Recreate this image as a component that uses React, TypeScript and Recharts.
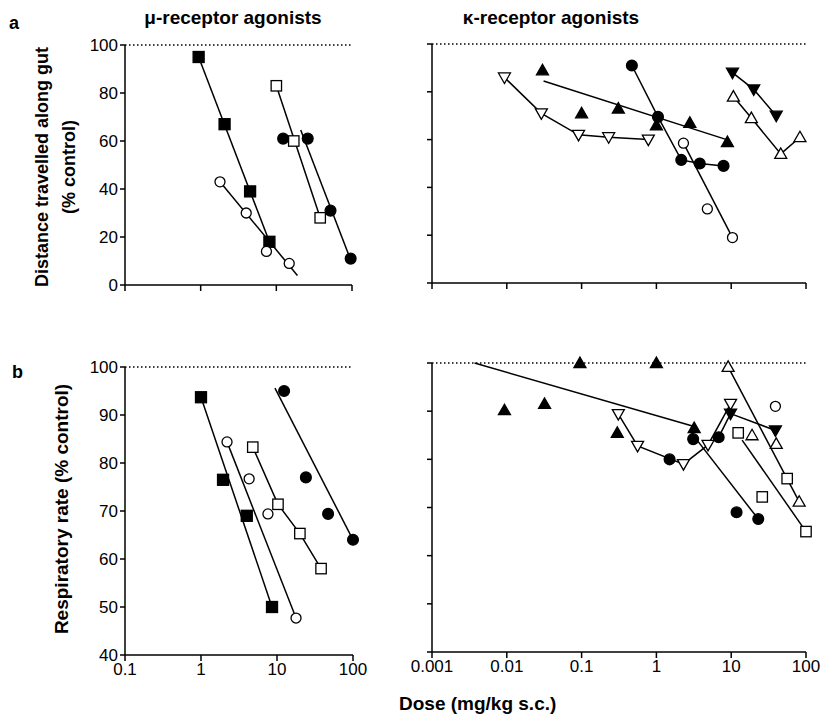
import React from "react";
import { ScatterChart, Scatter, XAxis, YAxis, ReferenceLine } from "recharts";

type Pt = [number, number];

// ---- a: distance travelled along gut, mu agonists ----
const muGutFilledSquare: Pt[] = [[0.94, 95], [2.07, 67], [4.5, 39], [8.1, 18]];
const muGutFilledSquareFit: Pt[] = [[0.94, 95], [8.1, 18]];
const muGutOpenCircle: Pt[] = [[1.8, 43], [4.0, 30], [7.4, 14], [14.8, 9]];
const muGutOpenCircleFit: Pt[] = [[1.8, 43], [19, 4]];
const muGutOpenSquare: Pt[] = [[10, 83], [17, 60], [38, 28]];
const muGutOpenSquareFit: Pt[] = [[10, 83], [38, 28]];
const muGutFilledCircle: Pt[] = [[12.3, 61], [26, 61], [52, 31], [96, 11]];
const muGutFilledCircleFit: Pt[] = [[21, 64.6], [100, 9]];

// ---- a: distance travelled along gut, kappa agonists ----
const kGutOpenDown: Pt[] = [[0.0093, 86], [0.029, 71], [0.091, 62], [0.23, 61], [0.78, 60]];
const kGutFilledUp: Pt[] = [[0.03, 89], [0.1, 71], [0.31, 73], [1.0, 66], [2.8, 67], [8.9, 59]];
const kGutFilledUpFit: Pt[] = [[0.031, 84.5], [8.7, 60]];
const kGutFilledCircle: Pt[] = [[0.47, 91], [1.05, 69.5], [2.15, 51.5], [3.8, 50], [7.9, 49]];
const kGutOpenCircle: Pt[] = [[2.3, 58.5], [4.8, 31], [10.4, 19]];
const kGutOpenCircleFit: Pt[] = [[2.3, 58.5], [10.4, 19]];
const kGutFilledDown: Pt[] = [[10.4, 88], [20, 81], [40, 70]];
const kGutOpenUp: Pt[] = [[10.7, 78], [18.6, 69], [46, 54], [83, 61]];

// ---- b: respiratory rate, mu agonists ----
const muRespFilledSquare: Pt[] = [[1.0, 93.7], [1.95, 76.5], [4.0, 69], [8.6, 50]];
const muRespFilledSquareFit: Pt[] = [[1.0, 93.7], [8.6, 50]];
const muRespOpenCircle: Pt[] = [[2.2, 84.4], [4.3, 76.7], [7.6, 69.4], [17.8, 47.7]];
const muRespOpenCircleFit: Pt[] = [[2.2, 84.4], [17.8, 47.7]];
const muRespOpenSquare: Pt[] = [[4.8, 83.3], [10.3, 71.4], [20, 65.3], [38, 58]];
const muRespFilledCircle: Pt[] = [[12.4, 95], [24, 77], [47, 69.4], [100, 64]];
const muRespFilledCircleFit: Pt[] = [[9.4, 95.6], [100, 64]];

// ---- b: respiratory rate, kappa agonists ----
const kRespFilledUp: Pt[] = [[0.0093, 90.2], [0.032, 91.5], [0.095, 100], [1.0, 100], [0.3, 85.5], [3.2, 86.5]];
const kRespFilledUpFit: Pt[] = [[0.0037, 100], [3.2, 86.8]];
const kRespOpenDown: Pt[] = [[0.31, 89.4], [0.56, 82.8], [2.3, 79], [4.9, 83], [9.8, 91.5]];
const kRespFilledCircle: Pt[] = [[1.5, 80], [3.1, 84.2], [6.8, 84.6], [11.8, 69], [23, 67.6]];
const kRespFilledCircleFit: Pt[] = [[2.9, 85.6], [23, 67.6]];
const kRespFilledDown: Pt[] = [[9.8, 89.5], [39, 86]];
const kRespFilledDownFit: Pt[] = [[6.8, 84.6], [9.8, 89.5], [39, 86]];
const kRespOpenSquare: Pt[] = [[12.4, 85.5], [26, 72.2], [56, 76], [100, 65]];
const kRespOpenSquareFit: Pt[] = [[14, 84], [100, 65]];
const kRespOpenUp: Pt[] = [[9.1, 99.2], [19, 85], [40, 83.2], [81, 71.2]];
const kRespOpenUpFit: Pt[] = [[9.1, 99.2], [81, 71.2]];
const kRespOpenCircle: Pt[] = [[39, 91]];

const muDoseTicks = [0.1, 1, 10, 100];
const kDoseTicks = [0.001, 0.01, 0.1, 1, 10, 100];
const gutTicks = [0, 20, 40, 60, 80, 100];
const respTicks = [40, 50, 60, 70, 80, 90, 100];

const FONT = "'Liberation Sans', Arial, sans-serif";

type Kind = "sq" | "sqo" | "ci" | "cio" | "tu" | "tuo" | "td" | "tdo";

const Marker = ({ cx, cy, kind }: { cx?: number; cy?: number; kind: Kind }) => {
  if (cx == null || cy == null) return <g />;
  const open = kind.endsWith("o");
  const fill = open ? "#fff" : "#000";
  const sw = 1.3;
  if (kind.startsWith("sq")) {
    const s = open ? 5.2 : 5.5;
    return <rect x={cx - s} y={cy - s} width={2 * s} height={2 * s} fill={fill} stroke="#000" strokeWidth={sw} />;
  }
  if (kind.startsWith("ci")) {
    return <circle cx={cx} cy={cy} r={open ? 5 : 5.4} fill={fill} stroke="#000" strokeWidth={sw} />;
  }
  const s = 6;
  const pts =
    kind.startsWith("tu")
      ? `${cx},${cy - s} ${cx - s},${cy + s * 0.75} ${cx + s},${cy + s * 0.75}`
      : `${cx},${cy + s} ${cx - s},${cy - s * 0.75} ${cx + s},${cy - s * 0.75}`;
  return <polygon points={pts} fill={fill} stroke="#000" strokeWidth={sw} strokeLinejoin="miter" />;
};

const toData = (arr: Pt[]) => arr.map(([x, y]) => ({ x, y }));

interface PanelProps {
  left: number;
  top: number;
  width: number;
  height: number;
  margin: { top: number; right: number; bottom: number; left: number };
  yAxisWidth: number;
  xDomain: [number, number];
  xTicks: number[];
  yDomain: [number, number];
  yTicks: number[];
  xLabels: boolean;
  yLabels: boolean;
  lines: Pt[][];
  points: { data: Pt[]; kind: Kind }[];
}

const tickStyle = { fill: "#000", fontSize: 17, fontFamily: FONT };
const NoLabel = () => <g />;

const Panel = (p: PanelProps) => (
  <div style={{ position: "absolute", left: p.left, top: p.top }}>
    <ScatterChart width={p.width} height={p.height} margin={p.margin}>
      <XAxis
        type="number"
        dataKey="x"
        scale="log"
        domain={p.xDomain}
        ticks={p.xTicks}
        interval={0}
        tickFormatter={(v: number) => String(v)}
        tick={p.xLabels ? tickStyle : NoLabel}
        tickSize={6}
        height={30}
        stroke="#000"
        strokeWidth={1.5}
      />
      <YAxis
        type="number"
        dataKey="y"
        domain={p.yDomain}
        ticks={p.yTicks}
        interval={0}
        tick={p.yLabels ? tickStyle : NoLabel}
        tickSize={5}
        width={p.yAxisWidth}
        stroke="#000"
        strokeWidth={1.5}
      />
      <ReferenceLine y={p.yDomain[1]} stroke="#000" strokeWidth={1.5} strokeDasharray="1.5 2.5" />
      {p.lines.map((l, i) => (
        <Scatter
          key={"l" + i}
          data={toData(l)}
          line={{ stroke: "#000", strokeWidth: 1.5 }}
          lineType="joint"
          shape={() => <g />}
          isAnimationActive={false}
        />
      ))}
      {p.points.map((s, i) => (
        <Scatter
          key={"p" + i}
          data={toData(s.data)}
          shape={(props: any) => <Marker cx={props.cx} cy={props.cy} kind={s.kind} />}
          isAnimationActive={false}
        />
      ))}
    </ScatterChart>
  </div>
);

export default function App() {
  return (
    <div style={{ position: "absolute", left: 0, top: 0, width: 823, height: 715, background: "#fff", fontFamily: FONT }}>
      <Panel
        left={0}
        top={0}
        width={380}
        height={320}
        margin={{ top: 45, right: 28, bottom: 5, left: 0 }}
        yAxisWidth={125}
        xDomain={[0.1, 100]}
        xTicks={muDoseTicks}
        yDomain={[0, 100]}
        yTicks={gutTicks}
        xLabels={false}
        yLabels={true}
        lines={[muGutFilledSquareFit, muGutOpenCircleFit, muGutOpenSquareFit, muGutFilledCircleFit]}
        points={[
          { data: muGutFilledSquare, kind: "sq" },
          { data: muGutOpenCircle, kind: "cio" },
          { data: muGutOpenSquare, kind: "sqo" },
          { data: muGutFilledCircle, kind: "ci" },
        ]}
      />
      <Panel
        left={380}
        top={0}
        width={443}
        height={320}
        margin={{ top: 44, right: 17, bottom: 7, left: 0 }}
        yAxisWidth={52}
        xDomain={[0.001, 100]}
        xTicks={kDoseTicks}
        yDomain={[0, 100]}
        yTicks={gutTicks}
        xLabels={false}
        yLabels={false}
        lines={[kGutOpenDown, kGutFilledUpFit, kGutFilledCircle, kGutOpenCircleFit, kGutFilledDown, kGutOpenUp]}
        points={[
          { data: kGutOpenDown, kind: "tdo" },
          { data: kGutFilledUp, kind: "tu" },
          { data: kGutFilledCircle, kind: "ci" },
          { data: kGutOpenCircle, kind: "cio" },
          { data: kGutFilledDown, kind: "td" },
          { data: kGutOpenUp, kind: "tuo" },
        ]}
      />
      <Panel
        left={0}
        top={330}
        width={380}
        height={385}
        margin={{ top: 37, right: 27, bottom: 30, left: 0 }}
        yAxisWidth={125}
        xDomain={[0.1, 100]}
        xTicks={muDoseTicks}
        yDomain={[40, 100]}
        yTicks={respTicks}
        xLabels={true}
        yLabels={true}
        lines={[muRespFilledSquareFit, muRespOpenCircleFit, muRespOpenSquare, muRespFilledCircleFit]}
        points={[
          { data: muRespFilledSquare, kind: "sq" },
          { data: muRespOpenCircle, kind: "cio" },
          { data: muRespOpenSquare, kind: "sqo" },
          { data: muRespFilledCircle, kind: "ci" },
        ]}
      />
      <Panel
        left={380}
        top={330}
        width={443}
        height={385}
        margin={{ top: 33, right: 17, bottom: 33, left: 0 }}
        yAxisWidth={52}
        xDomain={[0.001, 100]}
        xTicks={kDoseTicks}
        yDomain={[40, 100]}
        yTicks={respTicks}
        xLabels={true}
        yLabels={false}
        lines={[kRespFilledUpFit, kRespOpenDown, kRespFilledCircleFit, kRespFilledDownFit, kRespOpenSquareFit, kRespOpenUpFit]}
        points={[
          { data: kRespFilledUp, kind: "tu" },
          { data: kRespOpenDown, kind: "tdo" },
          { data: kRespFilledCircle, kind: "ci" },
          { data: kRespFilledDown, kind: "td" },
          { data: kRespOpenSquare, kind: "sqo" },
          { data: kRespOpenUp, kind: "tuo" },
          { data: kRespOpenCircle, kind: "cio" },
        ]}
      />
      <svg
        width={823}
        height={715}
        style={{ position: "absolute", left: 0, top: 0, pointerEvents: "none" }}
        fontFamily={FONT}
      >
        <text x={9} y={29} fontSize={18} fontWeight="bold">a</text>
        <text x={12} y={378} fontSize={18} fontWeight="bold">b</text>
        <text x={233} y={24} fontSize={19} fontWeight="bold" textAnchor="middle">μ-receptor  agonists</text>
        <text x={551} y={24} fontSize={19} fontWeight="bold" textAnchor="middle">κ-receptor  agonists</text>
        <text transform="translate(48,167) rotate(-90)" fontSize={18} fontWeight="bold" textAnchor="middle">
          Distance travelled along gut
        </text>
        <text transform="translate(75,167) rotate(-90)" fontSize={18} fontWeight="bold" textAnchor="middle">
          (% control)
        </text>
        <text transform="translate(68,509) rotate(-90)" fontSize={19} fontWeight="bold" textAnchor="middle">
          Respiratory rate (% control)
        </text>
        <text x={399} y={710} fontSize={19} fontWeight="bold">Dose (mg/kg s.c.)</text>
      </svg>
    </div>
  );
}
